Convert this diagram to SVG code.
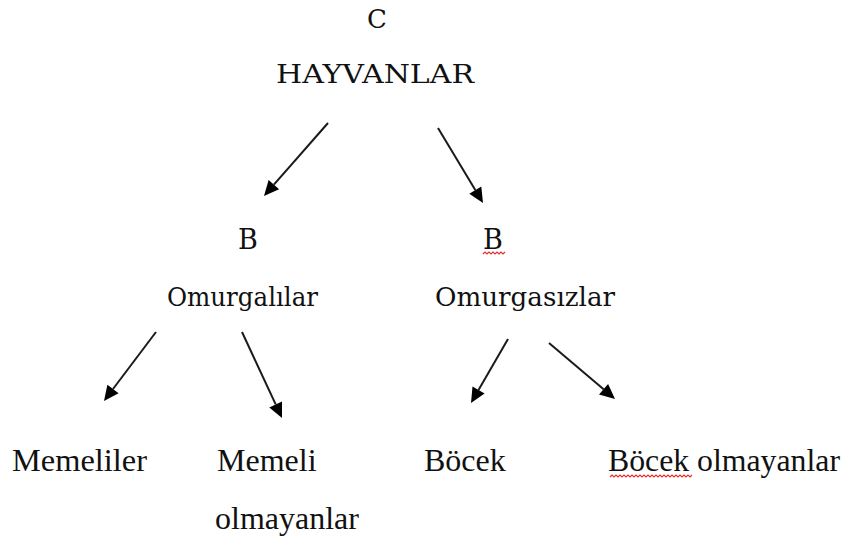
<svg xmlns="http://www.w3.org/2000/svg" width="848" height="536" viewBox="0 0 848 536">
<style>
.c{stroke:#1a1a1a;stroke-width:2;fill:none;}
.ah{fill:#000;stroke:none;}
.sq{stroke:#e03030;stroke-width:1.2;fill:none;}
</style>
<rect width="848" height="536" fill="#fff"/>
<g id="connectors">
<line class="c" x1="328" y1="123" x2="273.9" y2="184.7"/>
<polygon class="ah" points="264,196 279.1,189.3 268.6,180.1"/>
<line class="c" x1="438" y1="128" x2="475.3" y2="190.1"/>
<polygon class="ah" points="483,203 481.3,186.5 469.3,193.7"/>
<line class="c" x1="156" y1="332" x2="113" y2="389"/>
<polygon class="ah" points="104,401 118.6,393.2 107.4,384.8"/>
<line class="c" x1="242" y1="332" x2="275.7" y2="404.4"/>
<polygon class="ah" points="282,418 282,401.5 269.3,407.4"/>
<line class="c" x1="508" y1="339" x2="478.5" y2="390"/>
<polygon class="ah" points="471,403 484.6,393.5 472.5,386.5"/>
<line class="c" x1="549" y1="343" x2="603.6" y2="389.3"/>
<polygon class="ah" points="615,399 608.1,384 599,394.6"/>
</g>
<g id="node-hayvanlar">
<text x="377" y="28" font-size="26" font-family="'DejaVu Serif', 'Liberation Serif', serif" fill="#111" text-anchor="middle">C</text>
<text x="276" y="83" font-size="26" font-family="'DejaVu Serif', 'Liberation Serif', serif" fill="#111" textLength="198" lengthAdjust="spacingAndGlyphs">HAYVANLAR</text>
</g>
<g id="node-omurgalilar">
<text x="248" y="249" font-size="27" font-family="'DejaVu Serif', 'Liberation Serif', serif" fill="#111" text-anchor="middle">B</text>
<text x="167" y="306" font-size="26" font-family="'DejaVu Serif', 'Liberation Serif', serif" fill="#111" textLength="151" lengthAdjust="spacingAndGlyphs">Omurgalılar</text>
</g>
<g id="node-omurgasizlar">
<text x="493" y="249" font-size="27" font-family="'DejaVu Serif', 'Liberation Serif', serif" fill="#111" text-anchor="middle">B</text>
<path class="sq" d="M483,254 l2,-2 l2,2 l2,-2 l2,2 l2,-2 l2,2 l2,-2 l2,2 l2,-2 l2,2 l2,-2"/>
<text x="435" y="306" font-size="26" font-family="'DejaVu Serif', 'Liberation Serif', serif" fill="#111" textLength="180" lengthAdjust="spacingAndGlyphs">Omurgasızlar</text>
</g>
<g id="node-memeliler">
<text x="12" y="471" font-size="32" font-family="'Liberation Serif', serif" fill="#111" textLength="135" lengthAdjust="spacingAndGlyphs">Memeliler</text>
</g>
<g id="node-memeli-olmayanlar">
<text x="217" y="471" font-size="32" font-family="'Liberation Serif', serif" fill="#111">Memeli</text>
<text x="215" y="529" font-size="32" font-family="'Liberation Serif', serif" fill="#111">olmayanlar</text>
</g>
<g id="node-bocek">
<text x="424" y="471" font-size="32" font-family="'Liberation Serif', serif" fill="#111">Böcek</text>
</g>
<g id="node-bocek-olmayanlar">
<text x="608" y="471" font-size="32" font-family="'Liberation Serif', serif" fill="#111" textLength="232" lengthAdjust="spacingAndGlyphs">Böcek olmayanlar</text>
<path class="sq" d="M610,477 l2,-2 l2,2 l2,-2 l2,2 l2,-2 l2,2 l2,-2 l2,2 l2,-2 l2,2 l2,-2 l2,2 l2,-2 l2,2 l2,-2 l2,2 l2,-2 l2,2 l2,-2 l2,2 l2,-2 l2,2 l2,-2 l2,2 l2,-2 l2,2 l2,-2 l2,2 l2,-2 l2,2 l2,-2 l2,2 l2,-2 l2,2 l2,-2 l2,2 l2,-2 l2,2 l2,-2 l2,2 l2,-2"/>
</g>
</svg>
